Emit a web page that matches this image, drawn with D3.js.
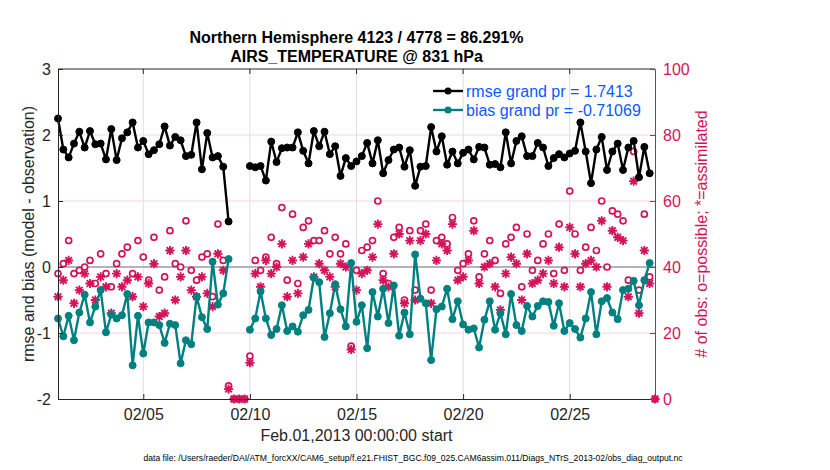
<!DOCTYPE html>
<html lang="en">
<head>
<meta charset="UTF-8">
<title>AIRS_TEMPERATURE @ 831 hPa</title>
<script src="https://cdn.jsdelivr.net/npm/d3@7"></script>
<style>
  body { margin: 0; background: #fff; }
  svg { font-family: "Liberation Sans", Arial, Helvetica, sans-serif; }
</style>
</head>
<body>
<svg id="chart" width="830" height="470"></svg>
<script>
// 6-hourly bins, Feb 1 00Z .. Mar 1 00Z
const startTime = new Date(Date.UTC(2013, 1, 1, 0));
const endTime = new Date(Date.UTC(2013, 2, 1, 0));
const times = d3.utcHour.every(6).range(startTime, d3.utcHour.offset(endTime, 1));

const rmse = [
  2.25, 1.78, 1.66, 1.87, 2.05, 1.81, 2.06, 1.86, 1.87, 1.63, 2.09, 1.62, 1.95, 2.04, 2.19, 1.81,
  1.91, 1.71, 1.77, 1.86, 2.13, 1.84, 1.97, 1.92, 1.68, 1.70, 2.19, 1.48, 2.03, 1.66, 1.68, 1.52,
  0.69, null, null, null, 1.53, 1.51, 1.53, 1.31, 1.90, 1.59, 1.80, 1.81, 1.81, 2.04, 1.76, 1.57,
  2.06, 1.83, 2.05, 1.71, 1.83, 1.38, 1.65, 1.53, 1.60, 1.68, 1.88, 1.57, 1.92, 1.42, 1.62, 1.78,
  1.81, 1.52, 1.77, 1.23, 1.52, 1.53, 2.12, 1.75, 1.98, 1.55, 1.75, 1.57, 1.73, 1.78, 1.63, 1.82,
  1.81, 1.55, 1.56, 1.51, 2.04, 1.57, 1.91, 1.98, 1.68, 1.68, 1.88, 1.81, 1.53, 1.65, 1.71, 1.66,
  1.72, 1.76, 2.19, 1.75, 1.27, 1.78, 1.97, 1.47, 1.75, 1.87, 1.47, 1.81, 1.91, 1.36, 1.82, 1.42,
  null
];

const bias = [
  -0.78, -1.05, -0.74, -1.11, -0.69, -0.42, -0.84, -0.60, -0.35, -0.99, -0.72, -0.78, -0.73, -0.41, -1.49, -0.74,
  -1.31, -0.84, -0.84, -0.88, -1.15, -0.86, -0.88, -1.46, -1.11, -1.17, -0.45, -0.76, -0.94, 0.08, -0.57, -0.40,
  0.12, null, null, null, -0.95, -0.78, -0.37, -0.78, -1.03, -0.94, -0.58, -0.97, -0.90, -0.98, -0.73, -0.65,
  -0.16, -0.23, -1.06, -0.70, -0.26, -0.64, -0.90, 0.06, -0.83, -0.58, -1.23, -0.38, -0.75, -0.33, -0.85, -0.28,
  -1.04, -0.69, -1.02, 0.19, -0.48, -0.55, -1.41, -0.64, -0.60, -0.33, -0.79, -0.52, -0.87, -0.95, -0.93, -1.22,
  -0.80, -0.52, -0.95, -0.70, -1.02, -0.41, -0.88, -0.97, -0.59, -0.75, -0.59, -0.52, -0.53, -0.89, -0.55, -0.97,
  -0.85, -0.94, -1.07, -0.78, -0.38, -1.02, -0.52, -0.47, -0.69, -0.79, -0.35, -0.33, -0.21, -0.58, -0.20, 0.06,
  null
];

const nPossible = [
  38, 41, 48, 38, 39, 40, 42, 35, 44, 38, 34, 41, 44, 46, 38, 48,
  43, 36, 49, 33, 37, 51, 41, 40, 54, 39, 36, 43, 44, 31, 53, 42,
  4, 0, 0, 0, 13, 42, 39, 43, 49, 41, 58, 36, 56, 35, 52, 54,
  48, 48, 51, 44, 49, 44, 47, 16, 39, 45, 46, 48, 60, 38, 35, 49,
  52, 30, 51, 33, 51, 53, 33, 48, 49, 47, 55, 39, 41, 44, 54, 37,
  44, 48, 42, 32, 47, 49, 52, 34, 50, 39, 42, 47, 50, 38, 53, 39,
  63, 50, 39, 46, 52, 45, 60, 40, 57, 56, 54, 36, 75, 33, 56, 37,
  0
];

const nAssim = [
  31, 36, 42, 29, 33, 38, 35, 30, 37, 34, 26, 38, 34, 36, 31, 37,
  28, 35, 41, 25, 26, 45, 30, 37, 45, 33, 31, 37, 32, 28, 44, 39,
  3, 0, 0, 0, 11, 38, 34, 42, 38, 40, 47, 31, 42, 32, 43, 47,
  37, 41, 39, 37, 34, 41, 40, 15, 33, 38, 39, 43, 53, 36, 34, 44,
  50, 29, 48, 30, 48, 50, 29, 42, 47, 45, 53, 36, 37, 42, 51, 35,
  40, 41, 34, 27, 38, 43, 41, 30, 44, 35, 36, 38, 42, 35, 46, 34,
  52, 44, 34, 41, 42, 40, 54, 34, 51, 49, 48, 31, 66, 26, 45, 35,
  0
];

const xTickDays = [5, 10, 15, 20, 25];
const xTickLabels = ["02/05", "02/10", "02/15", "02/20", "02/25"];
const leftTicks = [-2, -1, 0, 1, 2, 3];
const rightTicks = [0, 20, 40, 60, 80, 100];
const legendLabels = ["rmse grand pr = 1.7413", "bias grand pr = -0.71069"];

const titleLines = ["Northern Hemisphere 4123 / 4778 = 86.291%", "AIRS_TEMPERATURE @ 831 hPa"];
const footer = "data file: /Users/raeder/DAI/ATM_forcXX/CAM6_setup/f.e21.FHIST_BGC.f09_025.CAM6assim.011/Diags_NTrS_2013-02/obs_diag_output.nc";

const pink = "#d4145a";
const teal = "#008080";
const legendBlue = "#0a5aff";

const plot = { left: 58, right: 655, top: 69, bottom: 399 };

const svg = d3.select("#chart");

const x = d3.scaleUtc().domain([startTime, endTime]).range([plot.left, plot.right]);
const yL = d3.scaleLinear().domain([-2, 3]).range([plot.bottom, plot.top]);
const yR = d3.scaleLinear().domain([0, 100]).range([plot.bottom, plot.top]);

const xTickDates = xTickDays.map(d => new Date(Date.UTC(2013, 1, d)));

// grid
const grid = svg.append("g");
grid.selectAll(".vgrid").data(xTickDates).enter().append("line")
  .attr("x1", d => x(d)).attr("x2", d => x(d))
  .attr("y1", plot.top).attr("y2", plot.bottom)
  .attr("stroke", "#dedede").attr("stroke-width", 1);
grid.selectAll(".hgrid").data(rightTicks.slice(1, -1)).enter().append("line")
  .attr("x1", plot.left).attr("x2", plot.right)
  .attr("y1", d => yR(d)).attr("y2", d => yR(d))
  .attr("stroke", "#f6d3df").attr("stroke-width", 1);

// zero line
svg.append("line")
  .attr("x1", plot.left).attr("x2", plot.right)
  .attr("y1", yL(0)).attr("y2", yL(0))
  .attr("stroke", "#b4b4b4").attr("stroke-width", 2);

// obs counts
const counts = times.map((t, i) => ({ t, p: nPossible[i], a: nAssim[i] }));

svg.append("g").selectAll("circle").data(counts).enter().append("circle")
  .attr("cx", d => x(d.t)).attr("cy", d => yR(d.p)).attr("r", 3)
  .attr("fill", "#fff").attr("stroke", pink).attr("stroke-width", 1.7);

const starPath = "M-4.6,0L4.6,0M0,-4.6L0,4.6M-3.3,-3.3L3.3,3.3M-3.3,3.3L3.3,-3.3";
svg.append("g").selectAll("path").data(counts).enter().append("path")
  .attr("transform", d => `translate(${x(d.t)},${yR(d.a)})`)
  .attr("d", starPath)
  .attr("fill", "none").attr("stroke", pink).attr("stroke-width", 1.9);

// rmse and bias lines
function drawSeries(values, color) {
  const pts = times.map((t, i) => ({ t, v: values[i] }));
  const line = d3.line()
    .defined(d => d.v !== null)
    .x(d => x(d.t)).y(d => yL(d.v));
  const g = svg.append("g");
  g.append("path").datum(pts)
    .attr("d", line).attr("fill", "none")
    .attr("stroke", color).attr("stroke-width", 2.4).attr("stroke-linejoin", "round");
  g.selectAll("circle").data(pts.filter(d => d.v !== null)).enter().append("circle")
    .attr("cx", d => x(d.t)).attr("cy", d => yL(d.v)).attr("r", 3.5)
    .attr("fill", color).attr("stroke", color).attr("stroke-width", 1);
}
drawSeries(bias, teal);
drawSeries(rmse, "#000");

// axes box
svg.append("line").attr("x1", plot.left).attr("x2", plot.right).attr("y1", plot.top).attr("y2", plot.top)
  .attr("stroke", "#262626").attr("stroke-width", 1);

const xAxis = d3.axisBottom(x).tickValues(xTickDates).tickSize(-5).tickPadding(10)
  .tickFormat((d, i) => xTickLabels[i]);
svg.append("g").attr("transform", `translate(0,${plot.bottom})`).call(xAxis)
  .call(g => g.select(".domain").attr("stroke", "#262626"))
  .call(g => g.selectAll(".tick line").attr("stroke", "#262626"))
  .call(g => g.selectAll("text").attr("font-size", 16).attr("fill", "#262626")
    .attr("font-family", "Liberation Sans, Arial, sans-serif"));

// top ticks
svg.append("g").selectAll("line").data(xTickDates).enter().append("line")
  .attr("x1", d => x(d)).attr("x2", d => x(d))
  .attr("y1", plot.top).attr("y2", plot.top + 5)
  .attr("stroke", "#262626");

const leftAxis = d3.axisLeft(yL).tickValues(leftTicks).tickSize(-5).tickPadding(7)
  .tickFormat(d => String(d));
svg.append("g").attr("transform", `translate(${plot.left},0)`).call(leftAxis)
  .call(g => g.select(".domain").attr("stroke", "#262626"))
  .call(g => g.selectAll(".tick line").attr("stroke", "#262626"))
  .call(g => g.selectAll("text").attr("font-size", 16).attr("fill", "#262626")
    .attr("font-family", "Liberation Sans, Arial, sans-serif"));

const rightAxis = d3.axisRight(yR).tickValues(rightTicks).tickSize(-5).tickPadding(8);
svg.append("g").attr("transform", `translate(${plot.right},0)`).call(rightAxis)
  .call(g => g.select(".domain").attr("stroke", pink))
  .call(g => g.selectAll(".tick line").attr("stroke", pink))
  .call(g => g.selectAll("text").attr("font-size", 16).attr("fill", pink)
    .attr("font-family", "Liberation Sans, Arial, sans-serif"));

// titles and labels
svg.append("g").selectAll("text").data(titleLines).enter().append("text")
  .attr("x", (plot.left + plot.right) / 2).attr("y", (d, i) => 43 + i * 19)
  .attr("text-anchor", "middle").attr("font-size", 16).attr("font-weight", "bold")
  .attr("fill", "#000").text(d => d);

svg.append("text")
  .attr("x", (plot.left + plot.right) / 2).attr("y", 441)
  .attr("text-anchor", "middle").attr("font-size", 16).attr("fill", "#262626")
  .text("Feb.01,2013 00:00:00 start");

svg.append("text")
  .attr("transform", `translate(34,${(plot.top + plot.bottom) / 2}) rotate(-90)`)
  .attr("text-anchor", "middle").attr("font-size", 16).attr("fill", "#262626")
  .text("rmse and bias (model - observation)");

svg.append("text")
  .attr("transform", `translate(707,${(plot.top + plot.bottom) / 2}) rotate(-90)`)
  .attr("text-anchor", "middle").attr("font-size", 16).attr("fill", pink)
  .text("# of obs: o=possible; *=assimilated");

svg.append("text")
  .attr("x", 413).attr("y", 461)
  .attr("text-anchor", "middle").attr("font-size", 8.6).attr("fill", "#000")
  .text(footer);

// legend
const legend = svg.append("g");
[["#000", 91], [teal, 110]].forEach(([color, ly], i) => {
  legend.append("line").attr("x1", 433).attr("x2", 463).attr("y1", ly).attr("y2", ly)
    .attr("stroke", color).attr("stroke-width", 2.4);
  legend.append("circle").attr("cx", 448).attr("cy", ly).attr("r", 3.5).attr("fill", color);
  legend.append("text").attr("x", 466).attr("y", ly + 5.5)
    .attr("font-size", 16).attr("fill", legendBlue).text(legendLabels[i]);
});
</script>
</body>
</html>
